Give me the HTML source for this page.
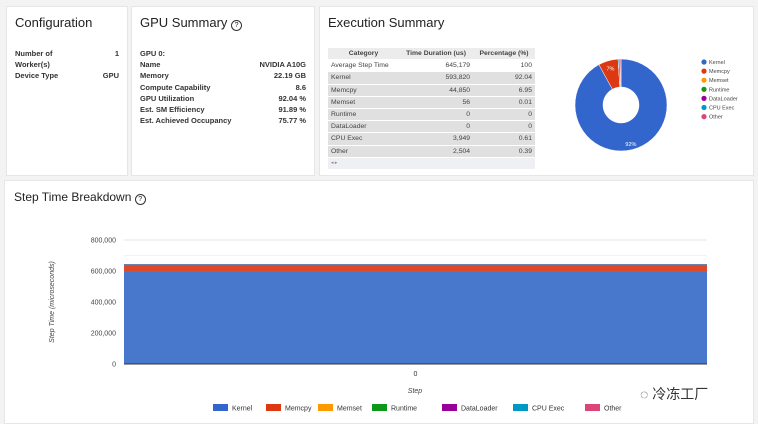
<!DOCTYPE html>
<html><head><meta charset="utf-8"><style>
body{margin:0;width:758px;height:424px;background:#f3f3f3;font-family:"Liberation Sans",sans-serif;position:relative;overflow:hidden}
.card{position:absolute;background:#fff;border:1px solid #e6e6e6}
.t{position:absolute;font-size:13px;color:#222}
.kv{position:absolute;font-size:7.5px;font-weight:bold;color:#333}
table{border-collapse:collapse;font-size:6.8px;color:#444}
td,th{height:11.2px;padding:0 3px;border-bottom:1px solid #fff}
</style></head><body>
<div class="card" style="left:6px;top:6px;width:120px;height:168px">
 <div class="t" style="left:8px;top:8px">Configuration</div>
 <div class="kv" style="left:8px;top:41px;line-height:11px">Number of<br>Worker(s)<br>Device Type</div>
 <div class="kv" style="right:8px;top:41px;text-align:right;line-height:11px">1<br><br>GPU</div>
</div>
<div class="card" style="left:131px;top:6px;width:182px;height:168px">
 <div class="t" style="left:8px;top:8px">GPU Summary <span style="border:1px solid #333;border-radius:50%;display:inline-block;width:9px;height:9px;line-height:9px;text-align:center;font-size:7px">?</span></div>
 <div class="kv" style="left:8px;top:41px;line-height:11.2px">GPU 0:<br>Name<br>Memory<br>Compute Capability<br>GPU Utilization<br>Est. SM Efficiency<br>Est. Achieved Occupancy</div>
 <div class="kv" style="right:8px;top:41px;text-align:right;line-height:11.2px"><br>NVIDIA A10G<br>22.19 GB<br>8.6<br>92.04 %<br>91.89 %<br>75.77 %</div>
</div>
<div class="card" style="left:319px;top:6px;width:433px;height:168px">
 <div class="t" style="left:8px;top:8px">Execution Summary</div>
 <table style="position:absolute;left:8px;top:41px;width:207px">
  <tr style="background:#ececec"><th style="width:65px">Category</th><th>Time Duration (us)</th><th>Percentage (%)</th></tr>
  <tr style="background:#fff"><td>Average Step Time</td><td align="right">645,179</td><td align="right">100</td></tr>
  <tr style="background:#e0e0e0"><td>Kernel</td><td align="right">593,820</td><td align="right">92.04</td></tr>
  <tr style="background:#e0e0e0"><td>Memcpy</td><td align="right">44,850</td><td align="right">6.95</td></tr>
  <tr style="background:#e0e0e0"><td>Memset</td><td align="right">56</td><td align="right">0.01</td></tr>
  <tr style="background:#e0e0e0"><td>Runtime</td><td align="right">0</td><td align="right">0</td></tr>
  <tr style="background:#e0e0e0"><td>DataLoader</td><td align="right">0</td><td align="right">0</td></tr>
  <tr style="background:#e0e0e0"><td>CPU Exec</td><td align="right">3,949</td><td align="right">0.61</td></tr>
  <tr style="background:#e0e0e0"><td>Other</td><td align="right">2,504</td><td align="right">0.39</td></tr>
  <tr style="background:#eef0f4"><td colspan="3" style="font-size:5px;color:#888">◂ ▸</td></tr>
 </table>
 <svg id="pie" width="433" height="168" style="position:absolute;left:0;top:0"></svg>
</div>
<div class="card" style="left:4px;top:180px;width:748px;height:242px">
 <div class="t" style="left:9px;top:9px;font-size:12px">Step Time Breakdown <span style="border:1px solid #333;border-radius:50%;display:inline-block;width:9px;height:9px;line-height:9px;text-align:center;font-size:7px">?</span></div>
</div>
<svg id="bar" width="758" height="424" style="position:absolute;left:0;top:0"></svg>
<div style="position:absolute;left:640px;top:384px;font-size:14px;color:#333;font-family:'Liberation Sans','Noto Sans CJK SC',sans-serif">◌ 冷冻工厂</div>
<script>
const categories=["Kernel","Memcpy","Memset","Runtime","DataLoader","CPU Exec","Other"];
const colors=["#3366cc","#dc3912","#ff9900","#109618","#990099","#0099c6","#dd4477"];
const barColors=["#4778cc","#dc4a2a","#ff9900","#109618","#990099","#0099c6","#dd4477"];
const durations=[593820,44850,56,0,0,3949,2504];
const steps=["0"];
const yTicks=[0,200000,400000,600000,800000];
const NS="http://www.w3.org/2000/svg";
function mk(p,t,a){const e=document.createElementNS(NS,t);for(const k in a)e.setAttribute(k,a[k]);p.appendChild(e);return e;}
const pie=document.getElementById('pie');
const cx=301,cy=98,R=46,r=18,tot=durations.reduce((a,b)=>a+b,0);
let ang=0;
durations.forEach((v,i)=>{if(!v)return;const a0=ang,a1=ang+v/tot*2*Math.PI;ang=a1;
 const P=(a,rr)=>[cx+rr*Math.sin(a),cy-rr*Math.cos(a)];const lg=(a1-a0)>Math.PI?1:0;
 const [x0,y0]=P(a0,R),[x1,y1]=P(a1,R),[x2,y2]=P(a1,r),[x3,y3]=P(a0,r);
 const s=mk(pie,'path',{d:`M${x0},${y0}A${R},${R} 0 ${lg} 1 ${x1},${y1}L${x2},${y2}A${r},${r} 0 ${lg} 0 ${x3},${y3}Z`,fill:colors[i],stroke:'#fff','stroke-width':0.5});
 
 
 const pct=v/tot*100;if(pct>5){const [tx,ty]=P((a0+a1)/2,(R+r)/2+(pct>50?8:6));const t=mk(pie,'text',{x:tx,y:ty+2,'font-size':5.5,fill:'#fff','text-anchor':'middle'});t.textContent=Math.round(pct)+'%';
 
 }
});
categories.forEach((c,i)=>{const g=mk(pie,'g',{});
 
 
 mk(g,'circle',{cx:384,cy:55+i*9.1,r:2.6,fill:colors[i]});const t=mk(g,'text',{x:389,y:57+i*9.1,'font-size':5.5,fill:'#444'});t.textContent=c;});
const bar=document.getElementById('bar');
const x0=124,x1=707,yb=364,yt=240,ymax=800000;
const Y=v=>yb-(v/ymax)*(yb-yt);
yTicks.forEach(v=>{if(v>0)mk(bar,'line',{x1:x0,x2:x1,y1:Y(v),y2:Y(v),stroke:'#e4e4e4','stroke-width':1});
 const t=mk(bar,'text',{x:116,y:Y(v)+2.5,'font-size':7,fill:'#444','text-anchor':'end'});t.textContent=v.toLocaleString('en-US');
 
 });
mk(bar,'line',{x1:x0,x2:x1,y1:Y(700000),y2:Y(700000),stroke:'#f2f2f2'});
let acc=0;
durations.forEach((v,i)=>{if(!v)return;const rc=mk(bar,'rect',{x:x0,width:x1-x0,y:Y(acc+v),height:Y(acc)-Y(acc+v),fill:barColors[i]});acc+=v;
 
 });
mk(bar,'line',{x1:x0,x2:x1,y1:yb,y2:yb,stroke:'#333','stroke-width':1});
steps.forEach(s=>{const t=mk(bar,'text',{x:(x0+x1)/2,y:376,'font-size':7,fill:'#333','text-anchor':'middle'});t.textContent=s;
 
 });
let t=mk(bar,'text',{x:415,y:393,'font-size':7,fill:'#444','font-style':'italic','text-anchor':'middle'});t.textContent='Step';

t=mk(bar,'text',{x:0,y:0,'font-size':7,fill:'#444','font-style':'italic','text-anchor':'middle',transform:'translate(54,302) rotate(-90)'});t.textContent='Step Time (microseconds)';

const lx=[213,266,318,372,442,513,585];
categories.forEach((c,i)=>{const g=mk(bar,'g',{});
 
 
 mk(g,'rect',{x:lx[i],y:404,width:15,height:7,fill:colors[i]});const tt=mk(g,'text',{x:lx[i]+19,y:410.5,'font-size':7,fill:'#333'});tt.textContent=c;});
</script>
</body></html>
